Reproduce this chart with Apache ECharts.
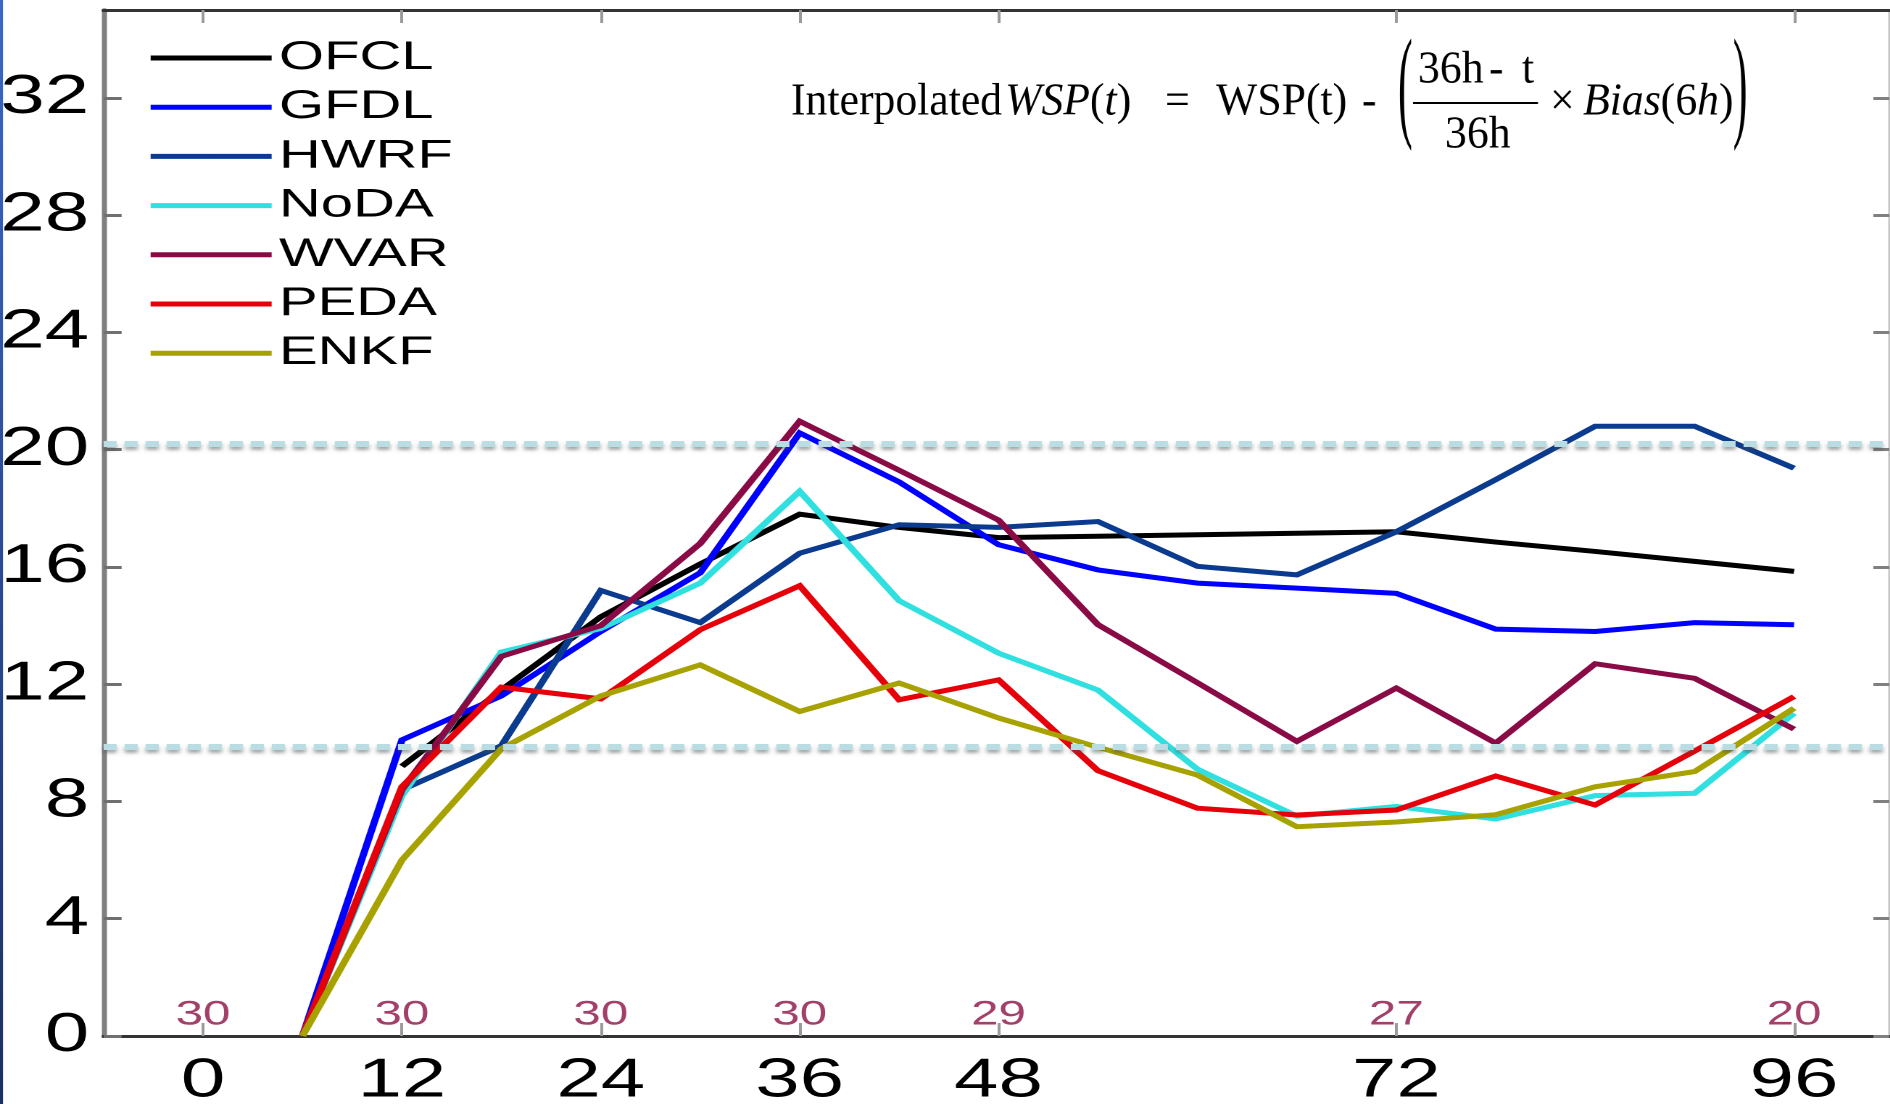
<!DOCTYPE html>
<html>
<head>
<meta charset="utf-8">
<title>Interpolated WSP error</title>
<script src="https://cdn.jsdelivr.net/npm/echarts@6/dist/echarts.min.js"></script>
<style>
  html, body { margin: 0; padding: 0; background: #ffffff; overflow: hidden; }
  /* the figure is laid out narrow and widened, giving the wide lettering of the figure */
  #chart { width: 1304px; height: 1104px; transform: scaleX(1.45); transform-origin: 0 0; }
</style>
</head>
<body>
<div id="chart"></div>
<script>
// horizontal widening factor applied to the whole figure
const S = 1.45;

// forecast hours (verification times)
const hours = [6, 12, 18, 24, 30, 36, 42, 48, 54, 60, 66, 72, 78, 84, 90, 96];

// interpolated wind-speed errors (kt) per model
const OFCL = [null, 9.2, 11.8, 14.3, 16.1, 17.8, 17.35, 17.0, 17.05, 17.1, 17.15, 17.2, 16.85, 16.53, 16.19, 15.85];
const GFDL = [0, 10.1, 11.6, 13.8, 15.8, 20.57, 18.9, 16.76, 15.9, 15.45, 15.28, 15.1, 13.88, 13.8, 14.1, 14.03];
const HWRF = [null, 8.4, 9.9, 15.2, 14.1, 16.47, 17.44, 17.35, 17.55, 16.02, 15.73, 17.2, 18.98, 20.8, 20.8, 19.37];
const NoDA = [0, 8.2, 13.1, 13.9, 15.45, 18.58, 14.85, 13.06, 11.8, 9.1, 7.5, 7.83, 7.4, 8.2, 8.28, 11.01];
const WVAR = [0, 8.4, 12.95, 14.0, 16.8, 20.97, 19.3, 17.6, 14.03, 12.05, 10.05, 11.87, 9.99, 12.7, 12.2, 10.47];
const PEDA = [0, 8.5, 11.9, 11.5, 13.86, 15.36, 11.47, 12.15, 9.05, 7.77, 7.54, 7.71, 8.87, 7.88, 9.72, 11.58];
const ENKF = [0, 6.0, 9.8, 11.6, 12.66, 11.07, 12.04, 10.85, 9.85, 8.9, 7.14, 7.3, 7.55, 8.5, 9.02, 11.18];

// number of verifying cases at selected hours
const countHours = [0, 12, 24, 36, 48, 72, 96];
const counts = [30, 30, 30, 30, 29, 27, 20];

// axis ticks
const xTicks = [0, 12, 24, 36, 48, 72, 96];
const yTicks = [0, 4, 8, 12, 16, 20, 24, 28, 32];

// dashed reference levels
const refLevels = [9.87, 20.22];

const models = [
  { name: 'OFCL', values: OFCL, color: '#000000' },
  { name: 'GFDL', values: GFDL, color: '#0000ff' },
  { name: 'HWRF', values: HWRF, color: '#0b3b8e' },
  { name: 'NoDA', values: NoDA, color: '#30e0e0' },
  { name: 'WVAR', values: WVAR, color: '#8a0a45' },
  { name: 'PEDA', values: PEDA, color: '#e6000a' },
  { name: 'ENKF', values: ENKF, color: '#a8a200' }
];

const X_MIN = -6, X_MAX = 101.75;
const sans = 'Liberation Sans, Arial, sans-serif';
const serif = 'Liberation Serif, Times New Roman, serif';

const chart = echarts.init(document.getElementById('chart'), null, { renderer: 'canvas', devicePixelRatio: 2 });

const lineSeries = models.map(m => ({
  name: m.name,
  type: 'line',
  data: hours.map((h, i) => [h, m.values[i]]),
  symbol: 'none',
  showSymbol: false,
  color: m.color,
  lineStyle: { color: m.color, width: 5, join: 'miter' },
  z: 2
}));

// formula text; x positions are given in final page pixels
const FX = 0.95;               // condensed serif lettering
const fs = 46;
function tx(x, baseline, text, extra) {
  return {
    type: 'text',
    x: x / FX,
    y: baseline - 0.3375 * fs,
    style: Object.assign({
      text: text, fontFamily: serif, fontSize: fs, fill: '#000',
      align: 'left', verticalAlign: 'middle',
      rich: {
        i: { fontFamily: serif, fontSize: fs, fontStyle: 'italic', fill: '#000' },
        r: { fontFamily: serif, fontSize: fs, fill: '#000' }
      }
    }, extra || {})
  };
}
function bigParen(x, ch) {
  return {
    type: 'text', x: x / FX, y: 92, scaleY: 2.7,
    style: { text: ch, fontFamily: serif, fontSize: fs, fill: '#000', align: 'left', verticalAlign: 'middle' }
  };
}

const formula = {
  type: 'group', x: 0, y: 0, scaleX: FX / S, silent: true,
  children: [
    tx(791, 118, 'Interpolated'),
    tx(1005, 118, '{i|WSP}{r|(}{i|t}{r|)}'),
    tx(1165, 118, '='),
    tx(1216, 118, 'WSP(t)'),
    tx(1362, 118, '-'),
    bigParen(1398, '('),
    tx(1418, 86, '36h'),
    tx(1489, 86, '-'),
    tx(1522, 86, 't'),
    { type: 'line', shape: { x1: 1413 / FX, y1: 103, x2: 1538 / FX, y2: 103 }, style: { stroke: '#000', lineWidth: 2 } },
    tx(1445, 151, '36h'),
    tx(1550, 118, '\u00d7'),
    tx(1583, 118, '{i|Bias}{r|(6}{i|h}{r|)}'),
    bigParen(1733, ')')
  ]
};

const option = {
  animation: false,
  backgroundColor: '#ffffff',
  grid: {
    left: 103.6 / S, top: 10, width: (X_MAX - X_MIN) * 16.573 / S, height: 1026,
    containLabel: false, outerBoundsMode: 'none'
  },
  legend: {
    data: models.map(m => m.name),
    orient: 'vertical',
    left: 147 / S,
    top: 38,
    padding: 0,
    itemWidth: 121 / S,
    itemHeight: 2,
    itemGap: 9.2,
    selectedMode: false,
    lineStyle: { width: 5 },
    textStyle: { fontFamily: sans, fontSize: 40, lineHeight: 40, color: '#000', padding: [0, 0, 0, 0] }
  },
  xAxis: [
    {
      type: 'value', min: X_MIN, max: X_MAX, position: 'bottom',
      axisLine: { show: true, onZero: false, lineStyle: { color: '#333333', width: 3 } },
      axisTick: { show: true, inside: true, length: 13, customValues: xTicks, lineStyle: { color: '#9a9a9a', width: 2 } },
      axisLabel: { show: true, customValues: xTicks, margin: 18, fontFamily: sans, fontSize: 55, color: '#000' },
      splitLine: { show: false }
    },
    {
      type: 'value', min: X_MIN, max: X_MAX, position: 'top',
      axisLine: { show: true, onZero: false, lineStyle: { color: '#333333', width: 3 } },
      axisTick: { show: true, inside: true, length: 13, customValues: xTicks, lineStyle: { color: '#9a9a9a', width: 2 } },
      axisLabel: { show: false },
      splitLine: { show: false }
    }
  ],
  yAxis: [
    {
      type: 'value', min: 0, max: 35, position: 'left',
      axisLine: { show: true, onZero: false, lineStyle: { color: '#808080', width: 3.5 } },
      axisTick: { show: true, inside: true, length: 18 / S, customValues: yTicks, lineStyle: { color: '#707070', width: 3 } },
      axisLabel: { show: true, customValues: yTicks, margin: 10, fontFamily: sans, fontSize: 55, color: '#000' },
      splitLine: { show: false }
    },
    {
      type: 'value', min: 0, max: 35, position: 'right',
      axisLine: { show: true, onZero: false, lineStyle: { color: '#c4c4c4', width: 1.5 } },
      axisTick: { show: true, inside: true, length: 16 / S, customValues: yTicks, lineStyle: { color: '#808080', width: 3 } },
      axisLabel: { show: false },
      splitLine: { show: false }
    }
  ],
  series: lineSeries.concat([
    {
      name: 'levels',
      type: 'line',
      data: [],
      z: 4,
      silent: true,
      markLine: {
        silent: true,
        symbol: 'none',
        label: { show: false },
        animation: false,
        lineStyle: {
          color: '#b9dde2', width: 6, type: [9, 5.5],
          shadowColor: 'rgba(80,80,80,0.5)', shadowBlur: 3, shadowOffsetY: 3
        },
        emphasis: { disabled: true },
        data: refLevels.map(v => ({ yAxis: v }))
      }
    },
    {
      name: 'cases',
      type: 'scatter',
      data: countHours.map((h, i) => [h, 0, counts[i]]),
      symbolSize: 1,
      itemStyle: { color: 'rgba(0,0,0,0)' },
      silent: true,
      clip: false,
      z: 5,
      label: {
        show: true, position: 'inside', offset: [0, -21],
        formatter: p => String(p.value[2]),
        fontFamily: sans, fontSize: 34, color: '#8b1045'
      }
    }
  ]),
  graphic: [
    {
      type: 'rect', left: 0, top: 0, silent: true,
      shape: { x: 0, y: 0, width: 3 / S, height: 1104 },
      style: {
        fill: new echarts.graphic.LinearGradient(0, 0, 0, 1, [
          { offset: 0, color: '#3a68c6' },
          { offset: 1, color: '#1c2f64' }
        ])
      }
    },
    formula
  ]
};

chart.setOption(option);
</script>
</body>
</html>
